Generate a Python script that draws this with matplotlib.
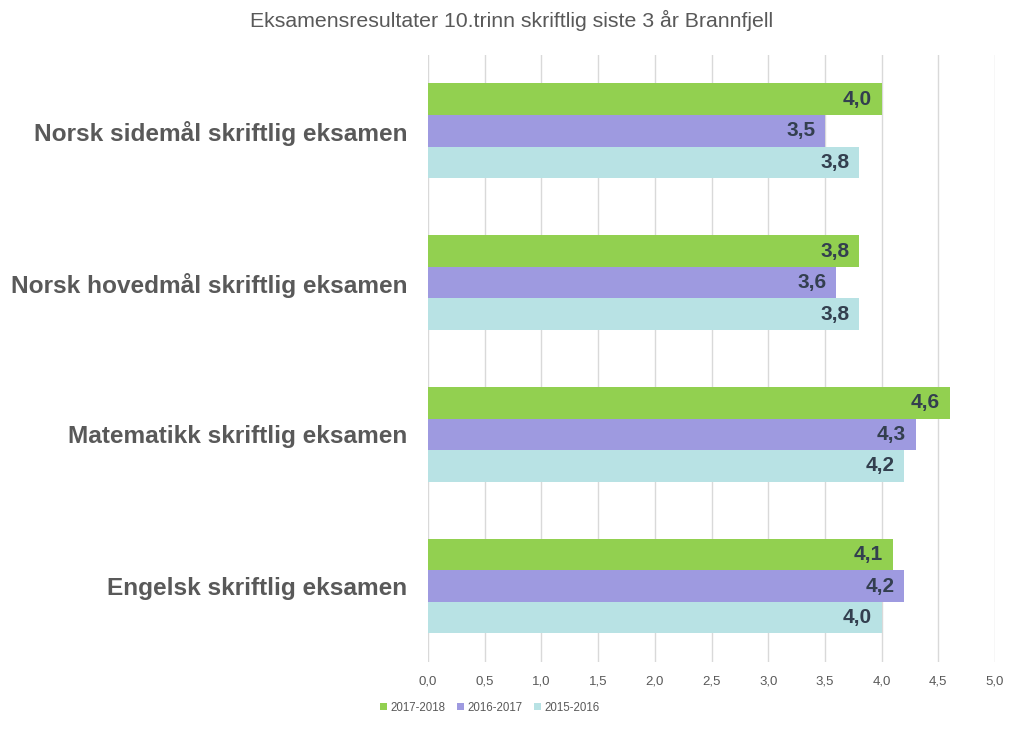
import numpy as np
import matplotlib.pyplot as plt

plt.rcParams['font.family'] = ['Liberation Sans', 'DejaVu Sans']

categories = ["Norsk sidemål skriftlig eksamen", "Norsk hovedmål skriftlig eksamen",
              "Matematikk skriftlig eksamen", "Engelsk skriftlig eksamen"]
series = ["2017-2018", "2016-2017", "2015-2016"]
v_2017_2018 = [4.0, 3.8, 4.6, 4.1]
v_2016_2017 = [3.5, 3.6, 4.3, 4.2]
v_2015_2016 = [3.8, 3.8, 4.2, 4.0]
colors = ["#92D050", "#9E9AE0", "#B8E2E4"]


def main():
    fig = plt.figure(figsize=(10.24, 7.29), dpi=100)
    ax = fig.add_axes([0.418, 0.092, 0.5537, 0.8326])

    y = np.arange(len(categories))
    h = 0.208
    values = [v_2017_2018, v_2016_2017, v_2015_2016]
    for i, (name, vals, c) in enumerate(zip(series, values, colors)):
        pos = y + (i - 1) * h
        bars = ax.barh(pos, vals, height=h, color=c, label=name, zorder=2)
        for b, v in zip(bars, vals):
            ax.text(v - 0.085, b.get_y() + h / 2, f"{v:.1f}".replace(".", ","),
                    ha="right", va="center", fontsize=15, fontweight="bold",
                    color="#333F4F", zorder=3)

    ax.set_ylim(len(categories) - 0.5, -0.5)
    ax.set_xlim(0, 5)
    ax.set_xticks(np.arange(0, 5.01, 0.5))
    ax.set_xticklabels([f"{t:.1f}".replace(".", ",") for t in np.arange(0, 5.01, 0.5)])
    ax.set_yticks(y)
    ax.set_yticklabels(categories, fontsize=17.6, fontweight="bold", color="#595959")
    ax.tick_params(axis="y", length=0, pad=15)
    ax.tick_params(axis="x", length=0, labelsize=9.5, labelcolor="#595959", pad=10)
    ax.grid(axis="x", color="#D9D9D9", linewidth=1, zorder=0)
    for s in ax.spines.values():
        s.set_visible(False)

    fig.text(0.5, 0.972, "Eksamensresultater 10.trinn skriftlig siste 3 år Brannfjell",
             ha="center", va="center", fontsize=15.3, color="#595959")
    fig.legend(loc="center", bbox_to_anchor=(0.478, 0.029), ncol=3, frameon=False,
               fontsize=8.3, handlelength=0.6, handleheight=0.6, handletextpad=0.3,
               columnspacing=1.0, labelcolor="#595959")

    fig.savefig("out.png", dpi=100)


if __name__ == "__main__":
    main()
